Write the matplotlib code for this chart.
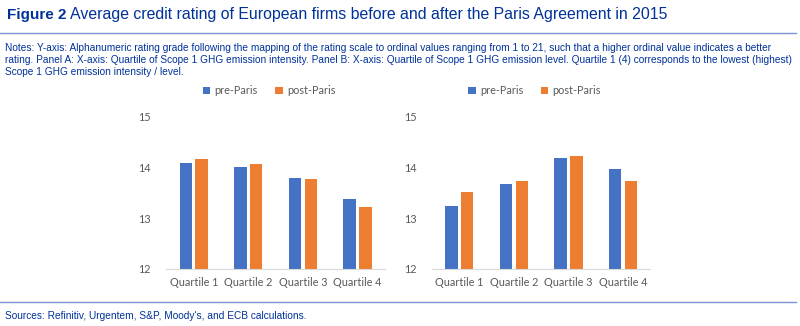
import matplotlib
matplotlib.use('Agg')
import matplotlib.pyplot as plt
import numpy as np

# average rating (ordinal 1..21) per emission quartile
quartiles = ['Quartile 1', 'Quartile 2', 'Quartile 3', 'Quartile 4']
intensity_pre = [14.09, 14.00, 13.79, 13.37]
intensity_post = [14.17, 14.06, 13.77, 13.23]
level_pre = [13.25, 13.68, 14.19, 13.96]
level_post = [13.51, 13.73, 14.22, 13.73]
series_names = ['pre-Paris', 'post-Paris']
y_ticks = [12, 13, 14, 15]

ecb_blue = '#003299'
rule_blue = '#7b93cf'
bar_blue = '#4472C4'
bar_orange = '#ED7D31'
tick_grey = '#595959'

fig = plt.figure(figsize=(8, 3.26), dpi=100)

fig.text(0.009, 0.955, 'Figure 2', fontsize=11, fontweight='bold', color=ecb_blue,
         family='Liberation Sans', va='center', ha='left')
fig.text(0.0875, 0.955, 'Average credit rating of European firms before and after the Paris Agreement in 2015',
         fontsize=11.4, color=ecb_blue, family='Liberation Sans', va='center', ha='left')
fig.add_artist(plt.Line2D([0, 0.995], [0.898, 0.898], color=rule_blue, lw=1))
notes = ('Notes: Y-axis: Alphanumeric rating grade following the mapping of the rating scale to ordinal values '
         'ranging from 1 to 21, such that a higher ordinal value indicates a better\n'
         'rating. Panel A: X-axis: Quartile of Scope 1 GHG emission intensity. Panel B: X-axis: Quartile of '
         'Scope 1 GHG emission level. Quartile 1 (4) corresponds to the lowest (highest)\n'
         'Scope 1 GHG emission intensity / level.')
fig.text(0.006, 0.867, notes, fontsize=7.3, color=ecb_blue, family='Liberation Sans',
         va='top', ha='left', linespacing=1.25)
fig.add_artist(plt.Line2D([0, 0.995], [0.075, 0.075], color=rule_blue, lw=1))
fig.text(0.006, 0.032, "Sources: Refinitiv, Urgentem, S&P, Moody's, and ECB calculations.",
         fontsize=7.3, color=ecb_blue, family='Liberation Sans', va='center', ha='left')


def draw_panel(ax, pre, post):
    x = np.arange(len(quartiles))
    w = 0.23
    ax.bar(x - 0.145, pre, w, color=bar_blue, label=series_names[0])
    ax.bar(x + 0.145, post, w, color=bar_orange, label=series_names[1])
    ax.set_ylim(12, 15)
    ax.set_xlim(-0.5, 3.5)
    ax.set_yticks(y_ticks)
    ax.set_xticks(x)
    ax.set_xticklabels(quartiles)
    for s in ['top', 'right', 'left']:
        ax.spines[s].set_visible(False)
    ax.spines['bottom'].set_color('#d9d9d9')
    ax.tick_params(axis='both', length=0, labelsize=7.8, colors=tick_grey)
    ax.tick_params(axis='y', pad=11)
    ax.tick_params(axis='x', pad=6)
    for lbl in ax.get_xticklabels() + ax.get_yticklabels():
        lbl.set_family('Lato')
    ax.legend(loc='center', bbox_to_anchor=(0.47, 1.17), ncol=2, frameon=False,
              handlelength=0.7, handleheight=0.7, handletextpad=0.4, columnspacing=1.6,
              prop={'family': 'Lato', 'size': 7.8}, labelcolor=tick_grey)


ax_a = fig.add_axes([0.208, 0.175, 0.273, 0.467])
draw_panel(ax_a, intensity_pre, intensity_post)
ax_b = fig.add_axes([0.540, 0.175, 0.273, 0.467])
draw_panel(ax_b, level_pre, level_post)

fig.savefig('out.png', dpi=100)
